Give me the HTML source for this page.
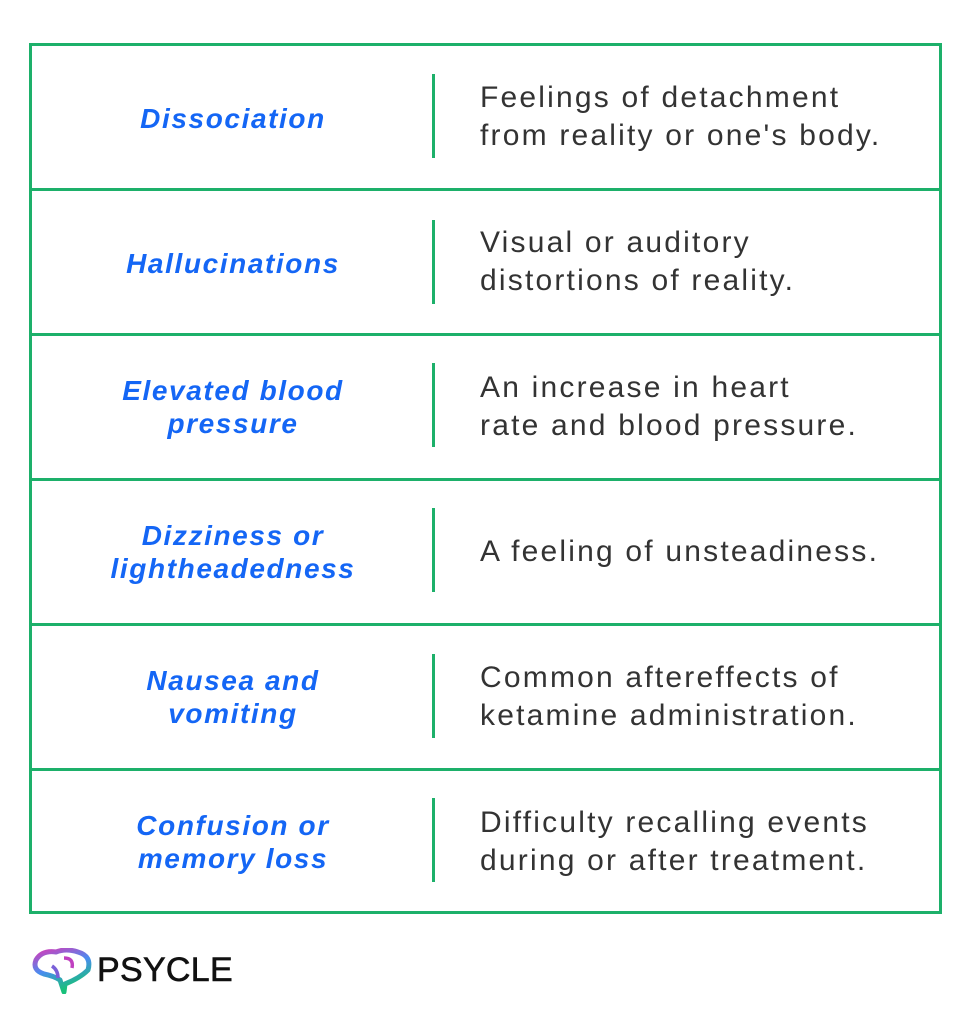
<!DOCTYPE html>
<html><head><meta charset="utf-8"><style>
body{margin:0;width:977px;height:1024px;background:#fff;position:relative;overflow:hidden;font-family:"Liberation Sans",sans-serif}
.box{position:absolute;left:29px;top:43px;width:907px;height:865px;border:3px solid #1db06a}
.h{position:absolute;left:29px;width:913px;height:3px;background:#1db06a}
.d{position:absolute;left:432px;width:3px;height:84px;background:#1db06a}
.l{position:absolute;left:40px;width:386px;text-align:center;color:#1466f5;font-weight:bold;font-style:italic;font-size:28px;line-height:33px;letter-spacing:1.6px;display:flex;align-items:center;justify-content:center;height:145px}
.r{position:absolute;left:480px;width:470px;color:#333;font-size:30px;line-height:38px;display:flex;align-items:center;height:145px;letter-spacing:2.2px;white-space:nowrap}
</style></head><body>
<div class="box"></div>
<div class="h" style="top:188px"></div>
<div class="h" style="top:333px"></div>
<div class="h" style="top:478px"></div>
<div class="h" style="top:623px"></div>
<div class="h" style="top:768px"></div>

<div class="d" style="top:74px"></div>
<div class="d" style="top:220px"></div>
<div class="d" style="top:363px"></div>
<div class="d" style="top:508px"></div>
<div class="d" style="top:654px"></div>
<div class="d" style="top:798px"></div>

<div class="l" style="top:46px">Dissociation</div>
<div class="r" style="top:44px">Feelings of detachment<br>from reality or one's body.</div>
<div class="l" style="top:191px">Hallucinations</div>
<div class="r" style="top:189px">Visual or auditory<br>distortions of reality.</div>
<div class="l" style="top:334px">Elevated blood<br>pressure</div>
<div class="r" style="top:334px">An increase in heart<br>rate and blood pressure.</div>
<div class="l" style="top:479px">Dizziness or<br>lightheadedness</div>
<div class="r" style="top:479px">A feeling of unsteadiness.</div>
<div class="l" style="top:624px">Nausea and<br>vomiting</div>
<div class="r" style="top:624px">Common aftereffects of<br>ketamine administration.</div>
<div class="l" style="top:769px">Confusion or<br>memory loss</div>
<div class="r" style="top:769px">Difficulty recalling events<br>during or after treatment.</div>

<svg style="position:absolute;left:32px;top:948px" width="60" height="46" viewBox="0 0 60 46">
<defs><linearGradient id="g" x1="0" y1="0" x2="0.4" y2="1"><stop offset="0" stop-color="#d63bb8"/><stop offset="0.5" stop-color="#4a8cf0"/><stop offset="1" stop-color="#18c07a"/></linearGradient></defs>
<path d="M33 36 Q48 30 56 22 Q60 8 46 4 Q34 0 24 4 Q10 2 4 12 Q0 22 12 26 Q22 28 28 32 Q30 38 32 44 Z" fill="none" stroke="url(#g)" stroke-width="5" stroke-linejoin="round"/>
<path d="M32 10 Q42 10 40 20" fill="none" stroke="#c040c0" stroke-width="3.5"/>
<path d="M20 18 Q26 22 26 30" fill="none" stroke="#7a60d8" stroke-width="3.5"/>
</svg>
<div style="position:absolute;left:97px;top:950px;font-size:34px;color:#111;letter-spacing:0.3px;line-height:40px;-webkit-text-stroke:0.6px #111">PSYCLE</div>
</body></html>
